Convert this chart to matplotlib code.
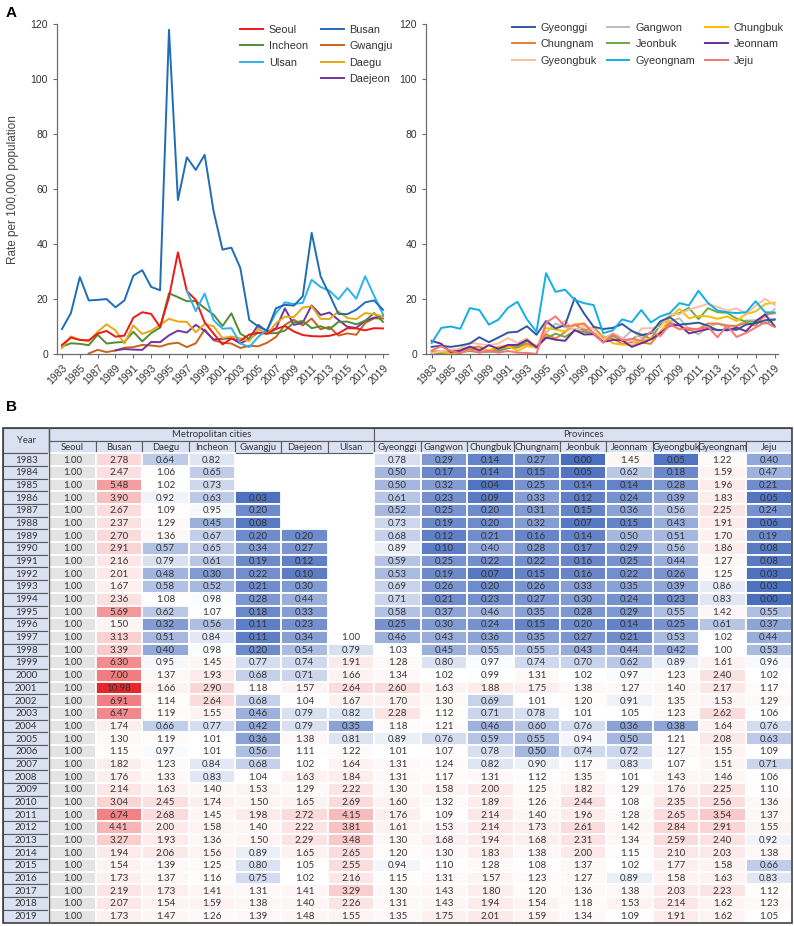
import numpy as np
import matplotlib
matplotlib.use("Agg")
import matplotlib.pyplot as plt
from matplotlib.patches import Rectangle
from matplotlib.lines import Line2D

plt.rcParams['font.family'] = ['Liberation Sans', 'DejaVu Sans']

years = list(range(1983, 2020))
N = None

# ---- Panel A: rate per 100,000 population ----
rate_metro = {
    'Seoul':   [3.3, 6.0, 5.1, 5.0, 7.4, 8.4, 6.3, 6.7, 13.2, 15.2, 14.6, 9.8, 20.7, 37.0, 22.9, 19.7, 11.5, 7.4, 3.5, 5.6, 4.8, 7.1, 7.7, 7.4, 9.1, 10.2, 8.2, 6.9, 6.5, 6.4, 6.6, 7.5, 9.4, 9.3, 8.6, 9.4, 9.3],
    'Busan':   [9.1, 14.9, 28.0, 19.5, 19.7, 20.0, 17.0, 19.5, 28.5, 30.5, 24.4, 23.2, 118.0, 56.0, 71.6, 67.0, 72.5, 52.0, 38.0, 38.7, 31.3, 12.4, 10.0, 8.5, 16.7, 17.9, 17.6, 21.0, 44.1, 28.3, 21.6, 14.6, 14.5, 16.1, 18.8, 19.5, 16.1],
    'Incheon': [2.7, 3.9, 3.7, 3.2, 7.0, 3.8, 4.2, 4.4, 8.1, 4.6, 7.6, 9.6, 22.1, 20.7, 19.2, 19.3, 16.7, 14.3, 10.2, 14.8, 7.4, 5.5, 7.8, 7.5, 7.6, 8.5, 11.5, 12.0, 9.4, 10.1, 9.0, 11.7, 11.8, 10.8, 12.1, 14.9, 11.7],
    'Gwangju': [N, N, N, 0.2, 1.5, 0.7, 1.3, 2.3, 2.5, 3.3, 3.1, 2.7, 3.7, 4.1, 2.5, 3.9, 8.9, 5.0, 4.1, 3.8, 2.2, 3.0, 2.8, 4.1, 6.2, 10.6, 12.5, 10.4, 12.9, 9.0, 9.9, 6.7, 7.5, 7.0, 11.3, 13.0, 12.9],
    'Ulsan':   [N] * 14 + [22.9, 15.6, 22.0, 12.3, 9.2, 9.4, 3.9, 2.5, 6.2, 9.0, 14.9, 18.8, 18.2, 18.6, 27.0, 24.4, 23.0, 19.9, 24.0, 20.1, 28.3, 21.2, 14.4],
    'Daegu':   [2.1, 6.4, 5.2, 4.6, 8.1, 10.8, 8.6, 3.8, 10.4, 7.3, 8.5, 10.6, 12.8, 11.8, 11.7, 7.9, 10.9, 10.1, 5.8, 6.4, 5.7, 4.7, 9.2, 7.2, 11.2, 13.6, 13.4, 16.9, 17.4, 12.8, 12.7, 15.5, 13.1, 12.7, 14.9, 14.5, 13.7],
    'Daejeon': [N] * 6 + [1.3, 1.8, 1.6, 1.5, 4.4, 4.3, 6.8, 8.5, 7.8, 10.6, 8.5, 5.3, 5.5, 5.8, 3.8, 5.6, 10.6, 8.2, 9.3, 16.6, 10.6, 11.4, 17.7, 14.2, 15.1, 12.4, 9.9, 9.5, 12.1, 13.2, 13.8],
}
rate_prov = {
    'Gyeonggi':  [2.6, 3.0, 2.6, 3.1, 3.8, 6.1, 4.3, 6.0, 7.8, 8.1, 10.1, 7.0, 12.0, 9.3, 10.5, 20.3, 14.7, 9.9, 9.1, 9.5, 10.9, 8.4, 6.9, 7.5, 11.9, 13.4, 10.7, 11.0, 11.4, 10.3, 8.6, 9.0, 8.8, 10.7, 11.2, 12.3, 12.6],
    'Chungnam':  [0.9, 0.9, 1.3, 1.7, 2.3, 2.7, 1.0, 1.9, 2.9, 2.3, 3.8, 2.6, 7.2, 5.6, 8.0, 10.8, 8.5, 9.7, 6.1, 5.7, 3.7, 4.3, 4.2, 3.7, 8.2, 11.4, 10.3, 8.7, 9.1, 11.1, 11.1, 10.4, 10.2, 11.4, 10.3, 14.5, 14.8],
    'Gyeongbuk': [0.2, 1.1, 1.4, 2.0, 4.1, 3.6, 3.2, 3.8, 5.8, 4.0, 5.7, 2.3, 11.4, 9.3, 12.1, 8.3, 10.2, 9.1, 4.9, 7.6, 5.9, 2.7, 9.3, 9.4, 9.7, 14.6, 14.4, 16.2, 17.2, 18.2, 17.1, 15.8, 16.6, 14.7, 17.5, 20.1, 17.8],
    'Gangwon':   [1.0, 1.0, 1.6, 1.2, 1.9, 1.6, 0.8, 0.7, 3.3, 2.9, 3.8, 2.1, 7.7, 11.1, 9.8, 8.9, 9.2, 7.5, 5.7, 7.3, 5.4, 8.6, 5.9, 7.9, 11.3, 11.9, 13.0, 9.1, 7.1, 9.8, 11.1, 9.8, 10.3, 12.2, 12.3, 13.4, 16.3],
    'Jeonbuk':   [0.0, 0.3, 0.7, 0.6, 1.1, 0.6, 0.9, 1.1, 2.1, 2.4, 4.8, 2.9, 5.8, 7.4, 6.2, 8.5, 8.1, 7.5, 4.8, 6.7, 4.8, 5.4, 7.2, 5.5, 10.6, 13.8, 14.9, 16.8, 12.7, 16.7, 15.2, 15.0, 12.9, 11.8, 11.7, 11.1, 12.5],
    'Gyeongnam': [4.0, 9.5, 10.0, 9.2, 16.7, 16.0, 10.7, 12.5, 16.8, 19.0, 12.6, 8.1, 29.4, 22.6, 23.4, 19.7, 18.5, 17.8, 7.6, 8.6, 12.6, 11.6, 16.0, 11.5, 13.7, 14.9, 18.5, 17.7, 23.0, 18.6, 15.8, 15.2, 14.9, 15.2, 19.2, 15.2, 15.1],
    'Chungbuk':  [0.5, 0.8, 0.2, 0.5, 1.5, 1.7, 1.3, 2.7, 2.9, 1.1, 2.9, 2.3, 9.5, 8.9, 8.2, 10.8, 11.2, 7.3, 6.6, 3.9, 3.4, 3.3, 4.5, 5.8, 7.5, 13.4, 16.4, 13.0, 13.9, 13.7, 12.8, 13.7, 12.0, 14.6, 15.5, 18.2, 18.7],
    'Jeonnam':   [4.8, 3.7, 0.7, 1.2, 2.7, 1.3, 3.2, 1.9, 3.3, 3.3, 5.1, 2.4, 6.0, 5.2, 4.8, 8.7, 7.1, 7.2, 4.4, 5.1, 5.0, 2.6, 3.9, 5.3, 7.6, 10.3, 10.6, 7.5, 8.3, 9.1, 8.8, 8.6, 9.6, 8.3, 11.9, 14.4, 10.1],
    'Jeju':      [1.3, 2.8, 1.1, 0.3, 1.8, 0.5, 1.2, 0.5, 1.1, 0.5, 0.4, 0.0, 11.4, 13.7, 10.1, 10.4, 11.0, 7.5, 4.1, 7.2, 5.1, 5.4, 4.9, 8.1, 6.5, 10.8, 9.0, 9.4, 8.9, 9.9, 6.1, 10.4, 6.2, 7.7, 9.6, 11.6, 9.8],
}
colors_metro = {'Seoul': '#f01818', 'Busan': '#1f6db5', 'Incheon': '#548a35', 'Gwangju': '#c8621c',
                'Ulsan': '#2bb3ec', 'Daegu': '#e8a812', 'Daejeon': '#7035a0'}
colors_prov = {'Gyeonggi': '#2f58a0', 'Chungnam': '#ed7d31', 'Gyeongbuk': '#f8c0a4', 'Gangwon': '#bdbdbd',
               'Jeonbuk': '#6cab45', 'Gyeongnam': '#12aeea', 'Chungbuk': '#ffbb00', 'Jeonnam': '#6a2c98',
               'Jeju': '#f87478'}
metro_draw_order = ['Gwangju', 'Daejeon', 'Incheon', 'Daegu', 'Seoul', 'Ulsan', 'Busan']
prov_draw_order = ['Gangwon', 'Chungnam', 'Jeonbuk', 'Chungbuk', 'Gyeongbuk', 'Jeonnam', 'Gyeonggi', 'Jeju', 'Gyeongnam']

# ---- Panel B: ratio to Seoul ----
tab_cols = ['Seoul', 'Busan', 'Daegu', 'Incheon', 'Gwangju', 'Daejeon', 'Ulsan',
            'Gyeonggi', 'Gangwon', 'Chungbuk', 'Chungnam', 'Jeonbuk', 'Jeonnam', 'Gyeongbuk', 'Gyeongnam', 'Jeju']
ratio = {
    'Seoul':     [1.00] * 37,
    'Busan':     [2.78, 2.47, 5.48, 3.90, 2.67, 2.37, 2.70, 2.91, 2.16, 2.01, 1.67, 2.36, 5.69, 1.50, 3.13, 3.39, 6.30, 7.00, 10.98, 6.91, 6.47, 1.74, 1.30, 1.15, 1.82, 1.76, 2.14, 3.04, 6.74, 4.41, 3.27, 1.94, 1.54, 1.73, 2.19, 2.07, 1.73],
    'Daegu':     [0.64, 1.06, 1.02, 0.92, 1.09, 1.29, 1.36, 0.57, 0.79, 0.48, 0.58, 1.08, 0.62, 0.32, 0.51, 0.40, 0.95, 1.37, 1.66, 1.14, 1.19, 0.66, 1.19, 0.97, 1.23, 1.33, 1.63, 2.45, 2.68, 2.00, 1.93, 2.06, 1.39, 1.37, 1.73, 1.54, 1.47],
    'Incheon':   [0.82, 0.65, 0.73, 0.63, 0.95, 0.45, 0.67, 0.65, 0.61, 0.30, 0.52, 0.98, 1.07, 0.56, 0.84, 0.98, 1.45, 1.93, 2.90, 2.64, 1.55, 0.77, 1.01, 1.01, 0.84, 0.83, 1.40, 1.74, 1.45, 1.58, 1.36, 1.56, 1.25, 1.16, 1.41, 1.59, 1.26],
    'Gwangju':   [N, N, N, 0.03, 0.20, 0.08, 0.20, 0.34, 0.19, 0.22, 0.21, 0.28, 0.18, 0.11, 0.11, 0.20, 0.77, 0.68, 1.18, 0.68, 0.46, 0.42, 0.36, 0.56, 0.68, 1.04, 1.53, 1.50, 1.98, 1.40, 1.50, 0.89, 0.80, 0.75, 1.31, 1.38, 1.39],
    'Daejeon':   [N] * 6 + [0.20, 0.27, 0.12, 0.10, 0.30, 0.44, 0.33, 0.23, 0.34, 0.54, 0.74, 0.71, 1.57, 1.04, 0.79, 0.79, 1.38, 1.11, 1.02, 1.63, 1.29, 1.65, 2.72, 2.22, 2.29, 1.65, 1.05, 1.02, 1.41, 1.40, 1.48],
    'Ulsan':     [N] * 14 + [1.00, 0.79, 1.91, 1.66, 2.64, 1.67, 0.82, 0.35, 0.81, 1.22, 1.64, 1.84, 2.22, 2.69, 4.15, 3.81, 3.48, 2.65, 2.55, 2.16, 3.29, 2.26, 1.55],
    'Gyeonggi':  [0.78, 0.50, 0.50, 0.61, 0.52, 0.73, 0.68, 0.89, 0.59, 0.53, 0.69, 0.71, 0.58, 0.25, 0.46, 1.03, 1.28, 1.34, 2.60, 1.70, 2.28, 1.18, 0.89, 1.01, 1.31, 1.31, 1.30, 1.60, 1.76, 1.61, 1.30, 1.20, 0.94, 1.15, 1.30, 1.31, 1.35],
    'Gangwon':   [0.29, 0.17, 0.32, 0.23, 0.25, 0.19, 0.12, 0.10, 0.25, 0.19, 0.26, 0.21, 0.37, 0.30, 0.43, 0.45, 0.80, 1.02, 1.63, 1.30, 1.12, 1.21, 0.76, 1.07, 1.24, 1.17, 1.58, 1.32, 1.09, 1.53, 1.68, 1.30, 1.10, 1.31, 1.43, 1.43, 1.75],
    'Chungbuk':  [0.14, 0.14, 0.04, 0.09, 0.20, 0.20, 0.21, 0.40, 0.22, 0.07, 0.20, 0.23, 0.46, 0.24, 0.36, 0.55, 0.97, 0.99, 1.88, 0.69, 0.71, 0.46, 0.59, 0.78, 0.82, 1.31, 2.00, 1.89, 2.14, 2.14, 1.94, 1.83, 1.28, 1.57, 1.80, 1.94, 2.01],
    'Chungnam':  [0.27, 0.15, 0.25, 0.33, 0.31, 0.32, 0.16, 0.28, 0.22, 0.15, 0.26, 0.27, 0.35, 0.15, 0.35, 0.55, 0.74, 1.31, 1.75, 1.01, 0.78, 0.60, 0.55, 0.50, 0.90, 1.12, 1.25, 1.26, 1.40, 1.73, 1.68, 1.38, 1.08, 1.23, 1.20, 1.54, 1.59],
    'Jeonbuk':   [0.00, 0.05, 0.14, 0.12, 0.15, 0.07, 0.14, 0.17, 0.16, 0.16, 0.33, 0.30, 0.28, 0.20, 0.27, 0.43, 0.70, 1.02, 1.38, 1.20, 1.01, 0.76, 0.94, 0.74, 1.17, 1.35, 1.82, 2.44, 1.96, 2.61, 2.31, 2.00, 1.37, 1.27, 1.36, 1.18, 1.34],
    'Jeonnam':   [1.45, 0.62, 0.14, 0.24, 0.36, 0.15, 0.50, 0.29, 0.25, 0.22, 0.35, 0.24, 0.29, 0.14, 0.21, 0.44, 0.62, 0.97, 1.27, 0.91, 1.05, 0.36, 0.50, 0.72, 0.83, 1.01, 1.29, 1.08, 1.28, 1.42, 1.34, 1.15, 1.02, 0.89, 1.38, 1.53, 1.09],
    'Gyeongbuk': [0.05, 0.18, 0.28, 0.39, 0.56, 0.43, 0.51, 0.56, 0.44, 0.26, 0.39, 0.23, 0.55, 0.25, 0.53, 0.42, 0.89, 1.23, 1.40, 1.35, 1.23, 0.38, 1.21, 1.27, 1.07, 1.43, 1.76, 2.35, 2.65, 2.84, 2.59, 2.10, 1.77, 1.58, 2.03, 2.14, 1.91],
    'Gyeongnam': [1.22, 1.59, 1.96, 1.83, 2.25, 1.91, 1.70, 1.86, 1.27, 1.25, 0.86, 0.83, 1.42, 0.61, 1.02, 1.00, 1.61, 2.40, 2.17, 1.53, 2.62, 1.64, 2.08, 1.55, 1.51, 1.46, 2.25, 2.56, 3.54, 2.91, 2.40, 2.03, 1.58, 1.63, 2.23, 1.62, 1.62],
    'Jeju':      [0.40, 0.47, 0.21, 0.05, 0.24, 0.06, 0.19, 0.08, 0.08, 0.03, 0.03, 0.00, 0.55, 0.37, 0.44, 0.53, 0.96, 1.02, 1.17, 1.29, 1.06, 0.76, 0.63, 1.09, 0.71, 1.06, 1.10, 1.36, 1.37, 1.55, 0.92, 1.38, 0.66, 0.83, 1.12, 1.23, 1.05],
}

W, H = 794, 926
fig = plt.figure(figsize=(W / 100, H / 100), dpi=100)


def fx(px):
    return px / W


def fy(py):
    return 1 - py / H


def to_arr(v):
    return np.array([np.nan if a is None else a for a in v], dtype=float)


def style_line_ax(ax, xlim):
    ax.set_xlim(*xlim)
    ax.set_ylim(0, 120)
    ax.set_yticks(range(0, 121, 20))
    ax.set_xticks(range(1983, 2020, 2))
    ax.set_xticklabels([str(y) for y in range(1983, 2020, 2)], rotation=45, ha='right',
                       rotation_mode='anchor')
    for s in ['top', 'right']:
        ax.spines[s].set_visible(False)
    for s in ['left', 'bottom']:
        ax.spines[s].set_color('#6e6e6e')
        ax.spines[s].set_linewidth(0.9)
    ax.tick_params(colors='#6e6e6e', labelcolor='#333333', labelsize=7.5, length=3, width=0.8)


axL = fig.add_axes([fx(57), fy(354), fx(388 - 57), (354 - 24.3) / H])
for name in metro_draw_order:
    axL.plot(years, to_arr(rate_metro[name]), color=colors_metro[name], lw=1.4, label=name)
style_line_ax(axL, (1982.44, 2019.56))
axL.set_ylabel('Rate per 100,000 population', fontsize=8.5, color='#444444', labelpad=8)

axR = fig.add_axes([fx(426), fy(354), fx(778 - 426), (354 - 24.3) / H])
for name in prov_draw_order:
    axR.plot(years, to_arr(rate_prov[name]), color=colors_prov[name], lw=1.4, label=name)
style_line_ax(axR, (1982.4, 2019.35))

# legends
leg_kw = dict(loc='upper left', frameon=False, fontsize=7.8, handlelength=2.1, handletextpad=0.55,
              labelspacing=0.58, borderpad=0, borderaxespad=0, labelcolor='#333333')
legL_names = ['Seoul', 'Incheon', 'Ulsan', None, 'Busan', 'Gwangju', 'Daegu', 'Daejeon']
hL = [Line2D([], [], color=colors_metro[n], lw=1.4) if n else Line2D([], [], color='none') for n in legL_names]
fig.legend(hL, [n if n else '' for n in legL_names], ncol=2, bbox_to_anchor=(fx(240), fy(25)),
           columnspacing=1.2, **leg_kw)

legR_names = ['Gyeonggi', 'Chungnam', 'Gyeongbuk', 'Gangwon', 'Jeonbuk', 'Gyeongnam', 'Chungbuk', 'Jeonnam', 'Jeju']
hR = [Line2D([], [], color=colors_prov[n], lw=1.4) for n in legR_names]
fig.legend(hR, legR_names, ncol=3, bbox_to_anchor=(fx(512), fy(23)), columnspacing=0.9, **leg_kw)

fig.text(fx(6), fy(13), 'A', fontsize=11, fontweight='bold', va='center', ha='left')
fig.text(fx(6), fy(407), 'B', fontsize=11, fontweight='bold', va='center', ha='left')

# ---- table ----
top_px, row_px = 428, 12.68
nrows = 2 + len(years)
tax = fig.add_axes([fx(3), fy(top_px + nrows * row_px), fx(789), nrows * row_px / H])
ncols = 1 + len(tab_cols)
tax.set_xlim(0, ncols)
tax.set_ylim(nrows, 0)
tax.axis('off')

blue = np.array([74, 110, 190]) / 255
red = np.array([232, 38, 42]) / 255
white = np.array([1.0, 1.0, 1.0])
vmax = 10.98


def cell_color(v):
    if v < 1:
        t = 1 - v
        return white * (1 - t) + blue * t
    t = min((v - 1) / (vmax - 1), 1)
    return white * (1 - t) + red * t


head_fill = '#d9e1f2'
grid_dark = '#5a5a5a'
txt = '#333333'
fs = 7
hfs = 6.8

# header
tax.add_patch(Rectangle((0, 0), 1, 2, facecolor=head_fill, edgecolor=grid_dark, lw=0.8))
tax.text(0.5, 1, 'Year', ha='center', va='center', fontsize=hfs, color=txt, family='Lato')
tax.add_patch(Rectangle((1, 0), 7, 1, facecolor=head_fill, edgecolor=grid_dark, lw=0.8))
tax.text(4.5, 0.5, 'Metropolitan cities', ha='center', va='center', fontsize=hfs, color=txt, family='Lato')
tax.add_patch(Rectangle((8, 0), 9, 1, facecolor=head_fill, edgecolor=grid_dark, lw=0.8))
tax.text(12.5, 0.5, 'Provinces', ha='center', va='center', fontsize=hfs, color=txt, family='Lato')
for j, name in enumerate(tab_cols):
    tax.add_patch(Rectangle((1 + j, 1), 1, 1, facecolor=head_fill, edgecolor=grid_dark, lw=0.8))
    tax.text(1.5 + j, 1.5, name, ha='center', va='center', fontsize=hfs, color=txt, family='Lato')

# body
for i, yr in enumerate(years):
    r = 2 + i
    tax.add_patch(Rectangle((0, r), 1, 1, facecolor=head_fill, edgecolor=grid_dark, lw=0.8))
    tax.text(0.5, r + 0.53, str(yr), ha='center', va='center', fontsize=fs, color=txt, family='Lato')
    for j, name in enumerate(tab_cols):
        v = ratio[name][i]
        if v is None:
            continue
        fc = '#e4e4e4' if name == 'Seoul' else cell_color(v)
        tax.add_patch(Rectangle((1 + j, r), 1, 1, facecolor=fc, edgecolor='white', lw=1.3))
        tax.text(1.5 + j, r + 0.53, f'{v:.2f}', ha='center', va='center', fontsize=fs,
                 color=txt, family='Lato')

tax.add_patch(Rectangle((0, 0), ncols, nrows, facecolor='none', edgecolor='#404040', lw=1.2, clip_on=False))
tax.plot([1, 1], [0, nrows], color=grid_dark, lw=1.0)

fig.savefig('out.png', dpi=100)
